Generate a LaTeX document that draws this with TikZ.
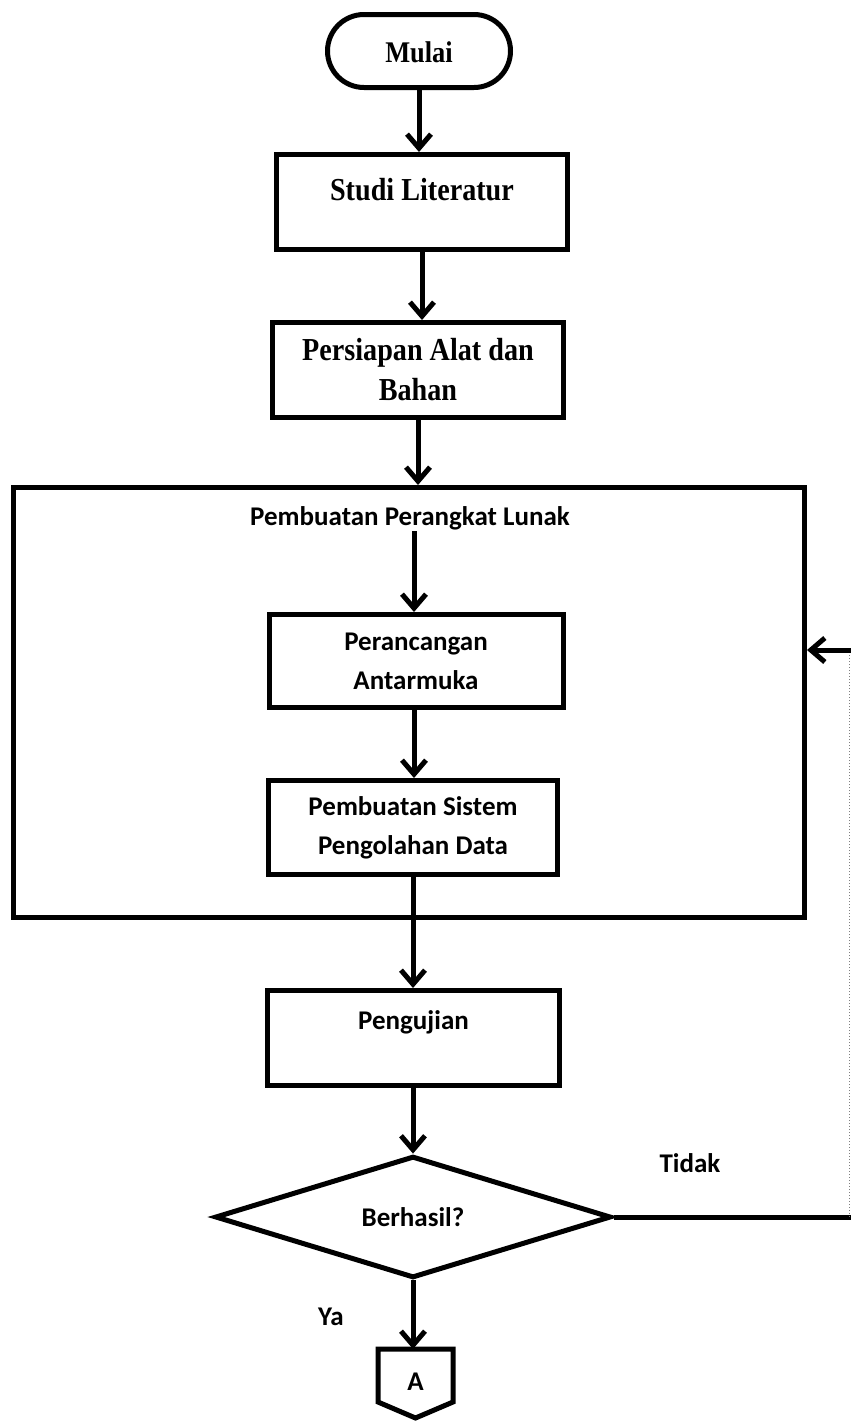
\documentclass[tikz,border=0pt]{standalone}
\usepackage{fontspec}
\setmainfont{Liberation Serif}
\newfontfamily\serifc[FakeStretch=0.88]{Liberation Serif}
\newfontfamily\calib{Carlito}
\usetikzlibrary{arrows.meta,shapes.geometric,shapes.misc}
\begin{document}
\begin{tikzpicture}[x=1pt,y=-1pt,
  serift/.style={font=\serifc\bfseries\fontsize{32}{40}\selectfont, align=center, inner sep=0pt},
  calt/.style={font=\calib\bfseries\fontsize{27}{39}\selectfont, align=center, inner sep=0pt},
  box/.style={draw, line width=5pt, inner sep=0pt, align=center},
  arr/.style={line width=5pt, -{Straight Barb[length=14pt,width=24pt]}},
  plain/.style={line width=5pt}
]
\useasboundingbox (0,0) rectangle (851,1422);

% nodes
\node[box, rounded rectangle, minimum width=183pt, minimum height=73pt] (mulai) at (419,51) {};
\node[serift, font=\serifc\bfseries\fontsize{30}{38}\selectfont] (mulait) at (419,52) {Mulai};

\node[box, minimum width=291pt, minimum height=95pt] (studi) at (422,202) {};
\node[serift] (studit) at (422,190) {Studi Literatur};

\node[box, serift, minimum width=291pt, minimum height=95pt] (persiapan) at (418,370) {Persiapan Alat dan\\Bahan};

\node[box, minimum width=791pt, minimum height=430pt] (big) at (409,702.5) {};
\node[calt] (title) at (410,518) {Pembuatan Perangkat Lunak};

\node[box, calt, minimum width=294pt, minimum height=93pt] (peran) at (416,661) {Perancangan\\Antarmuka};
\node[box, calt, minimum width=289pt, minimum height=94pt] (pemb) at (413,827.5) {Pembuatan Sistem\\Pengolahan Data};

\node[box, minimum width=292pt, minimum height=95pt] (uji) at (413.5,1038) {};
\node[calt] (ujit) at (413.5,1022) {Pengujian};

\node[box, diamond, calt, minimum width=396pt, minimum height=118pt] (dia) at (413,1217) {Berhasil?};

\node[calt] (tidak) at (690,1163) {Tidak};
\node[calt] (ya) at (331,1317) {Ya};

% off-page connector
\coordinate (Atop) at (415,1349);
\draw[line width=5pt, line join=miter] (378,1349) -- (453,1349) -- (453,1402) -- (415.5,1418) -- (378,1402) -- cycle;
\node[calt] (A) at (415.5,1382) {A};

% connectors
\draw[arr] (mulai.south) -- (mulai.south |- studi.north);
\draw[arr] (studi.south) -- (studi.south |- persiapan.north);
\draw[arr] (persiapan.south) -- (persiapan.south |- big.north);
\draw[arr] (414,531) -- (414,0 |- peran.north);
\draw[arr] (peran.south -| 414,0) -- (414,0 |- pemb.north);
\draw[arr] (pemb.south) -- (pemb.south |- uji.north);
\draw[arr] (uji.south -| dia.north) -- (dia.north);
\draw[arr] (dia.south) -- (dia.south |- Atop);

% feedback loop
\coordinate (fb1) at (853,1217);
\coordinate (fb2) at (853,650);
\draw[plain] (dia.east) -- (fb1);
\draw[line width=1pt, gray, dotted] (849,1217) -- (849,650);
\draw[arr] (fb2) -- (big.east |- fb2);
\end{tikzpicture}
\end{document}
